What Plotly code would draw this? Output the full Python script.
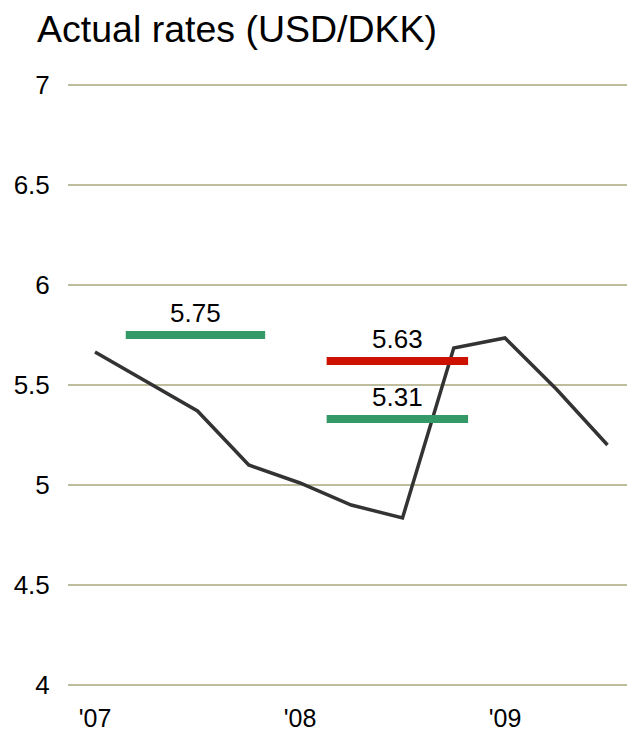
import plotly.graph_objects as go

# Actual rate series (quarterly positions, years)
x_years = [2007.0, 2007.5, 2007.75, 2008.0, 2008.25, 2008.5, 2008.75, 2009.0, 2009.25, 2009.5]
rates = [5.665, 5.37, 5.10, 5.01, 4.90, 4.835, 5.685, 5.735, 5.48, 5.20]

# Forecast bars
bar_start = [2007.15, 2008.13, 2008.13]
bar_end = [2007.83, 2008.82, 2008.82]
bar_values = [5.75, 5.62, 5.33]
bar_labels = ["5.75", "5.63", "5.31"]
bar_colors = ["#339966", "#CC1100", "#339966"]

y_ticks = [4, 4.5, 5, 5.5, 6, 6.5, 7]
y_ticktext = ["4", "4.5", "5", "5.5", "6", "6.5", "7"]
x_ticks = [2007, 2008, 2009]
x_ticktext = ["'07", "'08", "'09"]

FONT = "Liberation Sans, Arial, sans-serif"

fig = go.Figure()

fig.add_trace(go.Scatter(
    x=x_years, y=rates, mode="lines",
    line=dict(color="#333333", width=3.5),
    hoverinfo="skip", showlegend=False,
))

for s, e, v, c in zip(bar_start, bar_end, bar_values, bar_colors):
    fig.add_trace(go.Scatter(
        x=[s, e], y=[v, v], mode="lines",
        line=dict(color=c, width=8),
        hoverinfo="skip", showlegend=False,
    ))

for s, e, v, t in zip(bar_start, bar_end, bar_values, bar_labels):
    fig.add_annotation(
        x=(s + e) / 2, y=v, text=t, showarrow=False,
        yshift=22, font=dict(size=26, color="#000000", family=FONT),
    )

fig.add_annotation(
    text="Actual rates (USD/DKK)", showarrow=False,
    xref="paper", yref="paper",
    x=0, xshift=35 - 68, xanchor="left",
    y=1, yshift=83 - 29, yanchor="middle",
    font=dict(size=37.5, family=FONT, color="#000000"),
)

fig.update_layout(
    width=627, height=733,
    margin=dict(l=68, r=0, t=83, b=46, autoexpand=False),
    paper_bgcolor="white", plot_bgcolor="white",
    font=dict(family=FONT, color="#000000"),
    showlegend=False,
    xaxis=dict(
        range=[2007 - 27 / 205, 2007 + 532 / 205],
        tickvals=x_ticks, ticktext=x_ticktext,
        showgrid=False, zeroline=False, showline=False,
        ticks="outside", ticklen=9, tickcolor="rgba(0,0,0,0)",
        tickfont=dict(size=25, family=FONT, color="#000000"),
        automargin=False,
    ),
    yaxis=dict(
        range=[3.99, 7.01],
        tickvals=y_ticks, ticktext=y_ticktext,
        showgrid=True, gridcolor="#BEBE9E", gridwidth=2,
        zeroline=False, showline=False,
        ticks="outside", ticklen=12, tickcolor="rgba(0,0,0,0)",
        tickfont=dict(size=26, family=FONT, color="#000000"),
        automargin=False,
    ),
)

fig.write_html(
    "out.html",
    config={"displayModeBar": False},
    post_script="document.body.style.margin='0';",
)
